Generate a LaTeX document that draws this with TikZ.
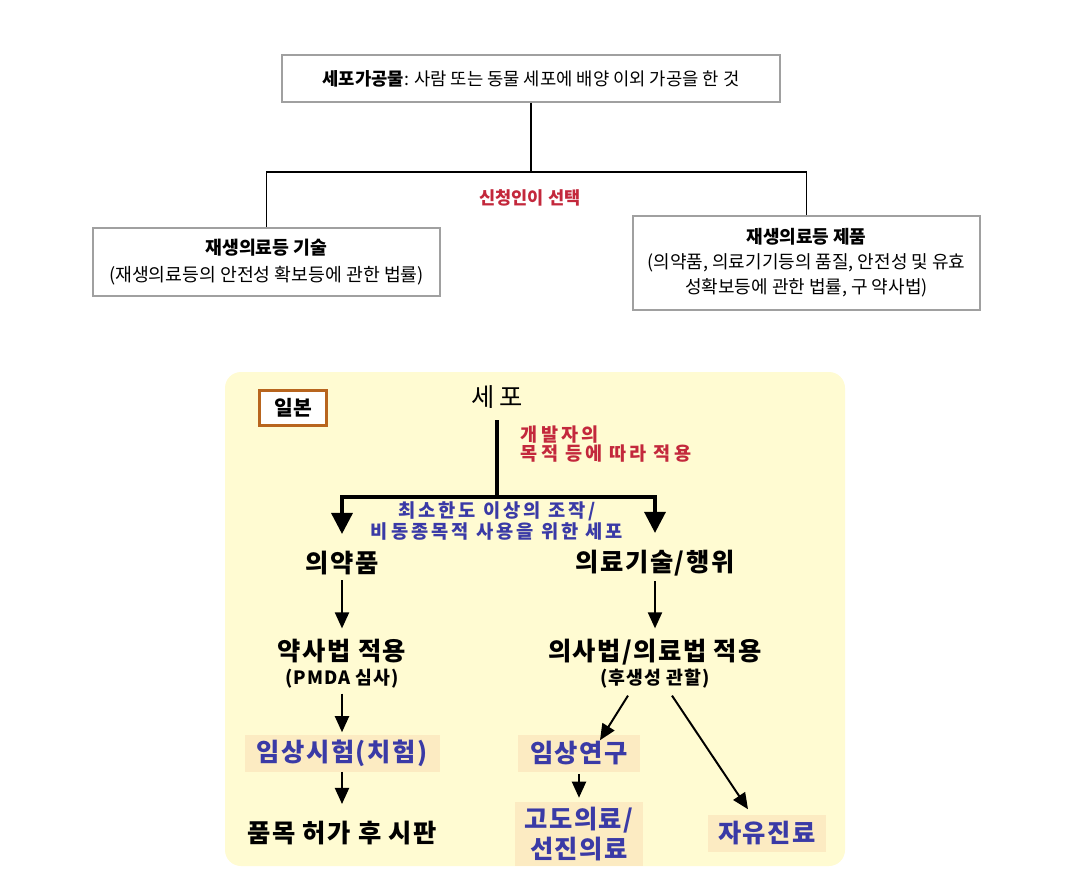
\documentclass[tikz,border=0pt]{standalone}
\usepackage{fontspec}
\setmainfont{Noto Sans CJK KR}
\newfontfamily\jpfont[LetterSpace=6]{Noto Sans CJK KR}
\newfontfamily\widefont[LetterSpace=16]{Noto Sans CJK KR}
\usetikzlibrary{arrows.meta,positioning}
\definecolor{boxline}{HTML}{A0A0A0}
\definecolor{panel}{HTML}{FFFBD2}
\definecolor{hilite}{HTML}{FCEBC2}
\definecolor{redtxt}{HTML}{C3283C}
\definecolor{bluetxt}{HTML}{3A3AA6}
\definecolor{brown}{HTML}{B8651E}
\def\px{0.025cm}
\newcommand\subsize{\fontsize{13}{15}\selectfont}
\tikzset{
  lawbox/.style={draw=boxline, line width=0.8pt, fill=white, align=center, inner sep=0pt},
  tree/.style={draw=black, line width=1.4pt},
  flow/.style={draw=black, line width=1.4pt, -{Triangle[length=16*\px, width=14*\px]}},
  fork/.style={draw=black, line width=2.4pt, -{Triangle[length=21*\px, width=21*\px]}},
  stage/.style={font=\jpfont\bfseries\fontsize{18}{21}\selectfont, align=center, inner sep=2pt},
  hbox/.style={stage, fill=hilite, text=bluetxt, inner sep=0pt},
}
\begin{document}
\begin{tikzpicture}[x=0.025cm,y=-0.025cm]
  \useasboundingbox (0,0) rectangle (1074,881);

  % upper part
  \node[lawbox, minimum width=498*\px, minimum height=47*\px, font=\fontsize{12.6}{14}\selectfont]
    (cellproc) at (531,78.5) {\textbf{세포가공물}: 사람 또는 동물 세포에 배양 이외 가공을 한 것};
  \node[lawbox, minimum width=347*\px, minimum height=68*\px, font=\fontsize{13}{19.5}\selectfont]
    (regtech) at (266.5,262) {\textbf{재생의료등 기술}\\(재생의료등의 안전성 확보등에 관한 법률)};
  \node[lawbox, minimum width=347*\px, minimum height=94*\px, font=\fontsize{12.8}{17.8}\selectfont]
    (regprod) at (806.5,263) {\textbf{재생의료등 제품}\\(의약품, 의료기기등의 품질, 안전성 및 유효\\성확보등에 관한 법률, 구 약사법)};
  \coordinate (split) at (531,172);
  \draw[tree] (cellproc.south) -- (split);
  \draw[tree] (split) -| (regtech.north);
  \draw[tree] (split) -| (regprod.north);
  \node[text=redtxt, font=\bfseries\fontsize{12.5}{14}\selectfont] (choice) at (530,198) {신청인이 선택};

  % lower part
  \fill[panel, rounded corners=16*\px] (225,372) rectangle (845,866);
  \node[draw=brown, line width=2.5pt, fill=white, minimum width=67*\px, minimum height=35*\px,
    font=\bfseries\fontsize{14.5}{16}\selectfont] (japan) at (293,408) {일본};
  \node[font=\widefont\fontsize{18}{20}\selectfont, inner sep=1pt] (cell) at (497,397) {세포};
  \node[text=redtxt, font=\widefont\bfseries\fontsize{13.2}{13}\selectfont, align=left, anchor=west]
    (purpose) at (516,444) {개발자의\\목적 등에 따라 적용};
  \coordinate (fork) at (497,497);
  \draw[line width=2.4pt] (497,420) -- (fork);

  \node[stage] (drug) at (342,563) {의약품};
  \node[stage] (tech) at (655,563) {의료기술/행위};
  \draw[fork, shorten >=14*\px] (fork) -| (drug.north);
  \draw[fork, shorten >=14*\px] (fork) -| (tech.north);
  \node[text=bluetxt, font=\widefont\bfseries\fontsize{13.3}{14.3}\selectfont, align=center]
    (minimal) at (497,521) {최소한도 이상의 조작/\\비동종목적 사용을 위한 세포};

  \node[stage] (pharm) at (342,664) {약사법 적용\\[-4pt]{\subsize (PMDA 심사)}};
  \node[stage] (medlaw) at (655,664) {의사법/의료법 적용\\[-4pt]{\subsize (후생성 관할)}};
  \draw[flow, shorten <=2*\px, shorten >=8*\px] (drug) -- (pharm);
  \draw[flow, shorten <=2*\px, shorten >=8*\px] (tech) -- (medlaw);

  \node[hbox, minimum width=195*\px, minimum height=37*\px] (trial) at (342,753) {임상시험(치험)};
  \node[hbox, minimum width=122*\px, minimum height=37*\px] (clin) at (579,753) {임상연구};
  \node[hbox, minimum width=128*\px, minimum height=64*\px, font=\jpfont\bfseries\fontsize{18}{21.5}\selectfont] (adv) at (579,834) {고도의료/\\선진의료};
  \node[hbox, minimum width=118*\px, minimum height=37*\px] (free) at (767,833) {자유진료};
  \node[stage] (sale) at (342,833) {품목 허가 후 시판};

  \draw[flow, shorten <=2*\px, shorten >=2*\px] (pharm) -- (trial);
  \draw[flow, shorten >=14*\px] (trial) -- (sale);
  \draw[flow, shorten <=2*\px, shorten >=4*\px] (clin) -- (adv);
  \draw[flow] ([xshift=-27*\px, yshift=-4*\px]medlaw.south) -- ([xshift=21*\px, yshift=-6*\px]clin.north);
  \draw[flow] ([xshift=17*\px, yshift=-4*\px]medlaw.south) -- ([xshift=-19*\px, yshift=5*\px]free.north);
\end{tikzpicture}
\end{document}
